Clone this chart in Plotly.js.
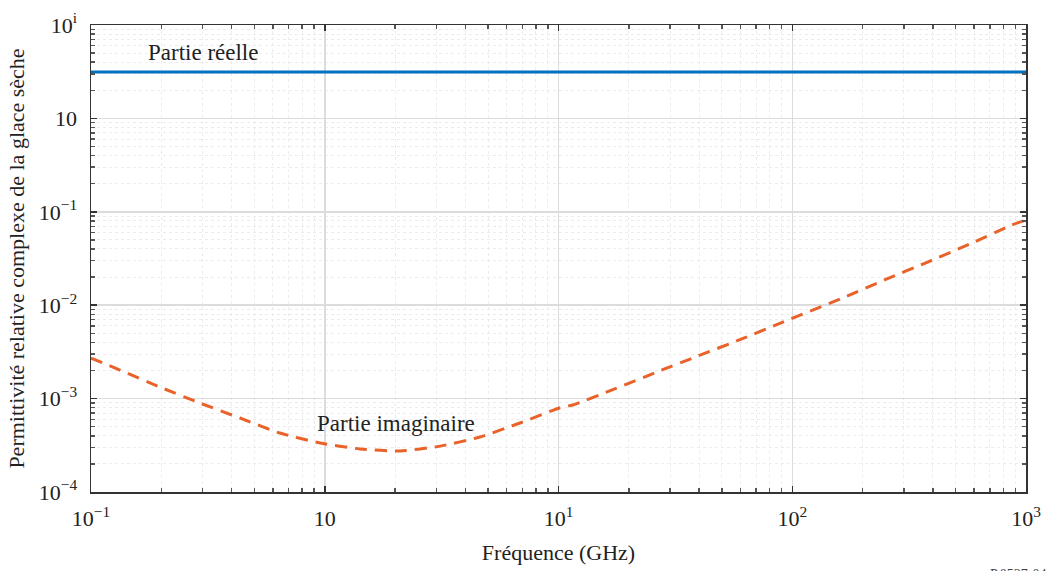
<!DOCTYPE html>
<html>
<head>
<meta charset="utf-8">
<script src="https://cdn.plot.ly/plotly-3.0.1.min.js"></script>
<style>html,body{margin:0;padding:0;background:#fff;}#chart{width:1048px;height:571px;}</style>
</head>
<body>
<div id="chart"></div>
<script>
// Frequencies (GHz) and values
const realFreq = [0.1, 1000];
const realValues = [3.14, 3.14];

const imagFreq = [0.1, 0.133, 0.197, 0.292, 0.434, 0.642, 0.954, 1.415, 2.10, 3.11, 4.61, 6.84, 10.1, 11.5, 17.4, 26.4, 39.5, 60.8, 91.2, 168, 254, 380, 575, 869, 1000];
const imagValues = [2.72e-3, 2.02e-3, 1.33e-3, 8.97e-4, 6.2e-4, 4.28e-4, 3.35e-4, 2.89e-4, 2.75e-4, 3.1e-4, 3.88e-4, 5.48e-4, 7.94e-4, 8.55e-4, 1.27e-3, 1.93e-3, 2.86e-3, 4.35e-3, 6.6e-3, 1.225e-2, 1.91e-2, 2.9e-2, 4.52e-2, 7.22e-2, 8.17e-2];

const xTickVals = [0.1, 1, 10, 100, 1000];
const xTickText = ['10<sup>\u22121</sup>', '10', '10<sup>1</sup>', '10<sup>2</sup>', '10<sup>3</sup>'];
const yTickVals = [1e-4, 1e-3, 1e-2, 1e-1, 1, 10];
const yTickText = ['10<sup>\u22124</sup>', '10<sup>\u22123</sup>', '10<sup>\u22122</sup>', '10<sup>\u22121</sup>', '10', '10<sup>i</sup>'];

const labelReal = 'Partie réelle';
const labelImag = 'Partie imaginaire';
const xTitle = 'Fréquence (GHz)';
const yTitle = 'Permittivité relative complexe de la glace sèche';
const figId = 'P.0527-04';

function minorVals(lo, hi) {
  const v = [];
  for (let e = lo; e < hi; e++) {
    for (let k = 2; k <= 9; k++) v.push(k * Math.pow(10, e));
  }
  return v;
}

const font = '"Liberation Serif", "DejaVu Serif", serif';

const traces = [
  {x: realFreq, y: realValues, mode: 'lines', line: {color: '#0072BD', width: 3}, hoverinfo: 'skip', showlegend: false},
  {x: imagFreq, y: imagValues, mode: 'lines', line: {color: '#E8622A', width: 3, dash: '12px,8px', shape: 'spline', smoothing: 0.6}, hoverinfo: 'skip', showlegend: false}
];

const axisCommon = {
  type: 'log',
  tickmode: 'array',
  showline: true, linecolor: '#333', linewidth: 1.5,
  mirror: 'allticks',
  ticks: 'inside', ticklen: 6, tickcolor: '#333', tickwidth: 1.5,
  showgrid: true, gridcolor: '#dcdcdc', gridwidth: 1.5,
  zeroline: false,
  tickfont: {family: font, size: 22, color: '#222'}
};

const layout = {
  width: 1048, height: 571,
  margin: {l: 91, r: 22, t: 25, b: 79},
  paper_bgcolor: '#fff', plot_bgcolor: '#fff',
  font: {family: font, color: '#222'},
  xaxis: Object.assign({}, axisCommon, {
    range: [-1, 3],
    tickvals: xTickVals, ticktext: xTickText,
    ticklabelstandoff: 6,
    minor: {tickmode: 'array', tickvals: minorVals(-1, 3), ticks: 'inside', ticklen: 4, tickcolor: '#555', showgrid: true, gridcolor: '#ececec', griddash: 'dot', gridwidth: 1},
    title: {text: xTitle, font: {family: font, size: 22, color: '#222'}, standoff: 14}
  }),
  yaxis: Object.assign({}, axisCommon, {
    range: [-4, 1],
    tickvals: yTickVals, ticktext: yTickText,
    ticklabelstandoff: 8,
    minor: {tickmode: 'array', tickvals: minorVals(-4, 1), ticks: 'inside', ticklen: 4, tickcolor: '#555', showgrid: true, gridcolor: '#ececec', griddash: 'dot', gridwidth: 1},
    title: {text: yTitle, font: {family: font, size: 22, color: '#222'}, standoff: 8}
  }),
  annotations: [
    {x: Math.log10(realFreq[0] * 3.0), y: Math.log10(realValues[0] * 1.6), xref: 'x', yref: 'y', text: labelReal, showarrow: false, xanchor: 'center', yanchor: 'middle', font: {family: font, size: 23, color: '#222'}},
    {x: Math.log10(2.02), y: Math.log10(5.35e-4), xref: 'x', yref: 'y', text: labelImag, showarrow: false, xanchor: 'center', yanchor: 'middle', font: {family: font, size: 23, color: '#222'}},
    {x: 1, y: 0, xref: 'paper', yref: 'paper', yshift: -73, xshift: 22, text: figId, showarrow: false, xanchor: 'right', yanchor: 'top', font: {family: font, size: 14, color: '#444'}}
  ]
};

Plotly.newPlot('chart', traces, layout, {displayModeBar: false, staticPlot: true});
</script>
</body>
</html>
